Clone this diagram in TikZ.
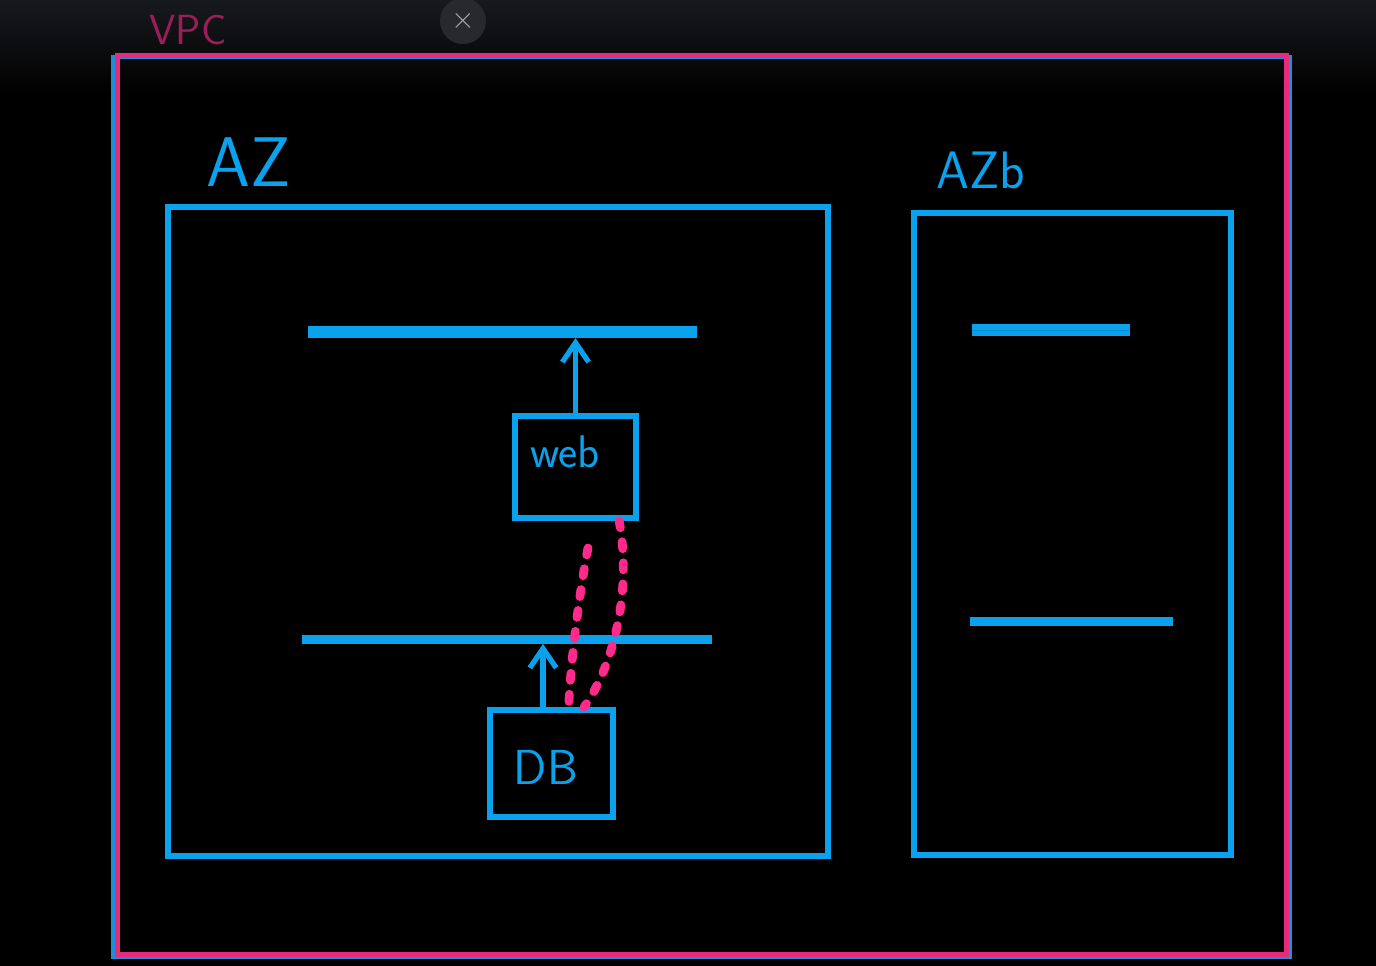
\documentclass[tikz,border=0pt]{standalone}
\usepackage{tikz}
\usetikzlibrary{positioning,arrows.meta}
\usepackage{xcolor}
\definecolor{topbar}{HTML}{17191D}
\definecolor{azblue}{HTML}{0AA2EC}
\definecolor{vpcpink}{HTML}{E82A7C}
\definecolor{vpcedge}{HTML}{1C8FD8}
\definecolor{vpcdark}{HTML}{9C1E58}
\definecolor{dotpink}{HTML}{FF2A8A}
\definecolor{btn}{HTML}{27292D}
\definecolor{btntext}{HTML}{A4A6AA}

\begin{document}
\begin{tikzpicture}[x=0.02cm,y=-0.02cm,
    box/.style={draw=azblue,line width=3.3pt,inner sep=0pt},
    subnet/.style={fill=azblue,inner sep=0pt},
    hand/.style={text=azblue,font=\sffamily\fontsize{40}{40}\selectfont},
    flow/.style={draw=azblue,line width=3pt,-{Straight Barb[length=11pt,width=15pt]}},
    link/.style={draw=dotpink,line width=5pt,line cap=round,dash pattern=on 4pt off 8pt}]

  % background
  \fill[black] (0,0) rectangle (1376,966);
  \shade[top color=topbar,bottom color=black] (0,0) rectangle (1376,95);
  \useasboundingbox (0,0) rectangle (1376,966);

  % close button
  \node[circle,fill=btn,minimum size=0.92cm,inner sep=0pt] (close) at (463,21) {};
  \node[text=btntext,font=\fontsize{16}{16}\selectfont] at (close) {$\times$};

  % vpc
  \node[draw=vpcedge,line width=2pt,minimum width=23.54cm,minimum height=18cm,inner sep=0pt] (vpcedge) at (701.5,507) {};
  \node[draw=vpcpink,line width=2.8pt,minimum width=23.4cm,minimum height=18cm,inner sep=0pt] (vpc) at (702,505) {};
  \node[text=vpcdark,font=\sffamily\fontsize{24}{24}\selectfont] (vpclabel) at (188,30) {VPC};

  % availability zones
  \node[box,minimum width=13.2cm,minimum height=12.98cm] (aza) at (498,531.5) {};
  \node[hand] (azalabel) at (249,162) {AZ};
  \node[box,minimum width=6.34cm,minimum height=12.84cm] (azb) at (1072.5,534) {};
  \node[hand,font=\sffamily\fontsize{30}{30}\selectfont] (azblabel) at (981,170) {AZb};

  % subnets
  \node[subnet,minimum width=7.78cm,minimum height=0.23cm] (puba) at (502.5,332) {};
  \node[subnet,minimum width=8.2cm,minimum height=0.18cm] (priva) at (507,639) {};
  \node[subnet,minimum width=3.16cm,minimum height=0.23cm] (pubb) at (1051,330) {};
  \node[subnet,minimum width=4.06cm,minimum height=0.18cm] (privb) at (1071.5,621) {};
  \draw[azblue!85!black,line width=0.4pt] (pubb.west) -- (pubb.east);

  % servers
  \node[box,minimum width=2.42cm,minimum height=2.04cm] (web) at (575.5,467) {};
  \node[text=azblue,font=\sffamily\fontsize{26}{26}\selectfont] (webtext) at (565,452) {web};
  \node[box,minimum width=2.46cm,minimum height=2.14cm] (db) at (551.5,763.5) {};
  \node[text=azblue,font=\sffamily\fontsize{28}{28}\selectfont] (dbtext) at (546,767) {DB};

  \draw[flow] (web.north) -- (web.north |- puba.south);
  \draw[flow] (db.north -| 543,0) -- (543,0 |- priva.south);

  % db link
  \coordinate (gap) at (588,548);
  \draw[link] (web.-51) .. controls (632,590) and (614,665) .. (db.60);
  \draw[link] (gap) .. controls (578,600) and (570,670) .. (db.73);
\end{tikzpicture}
\end{document}
